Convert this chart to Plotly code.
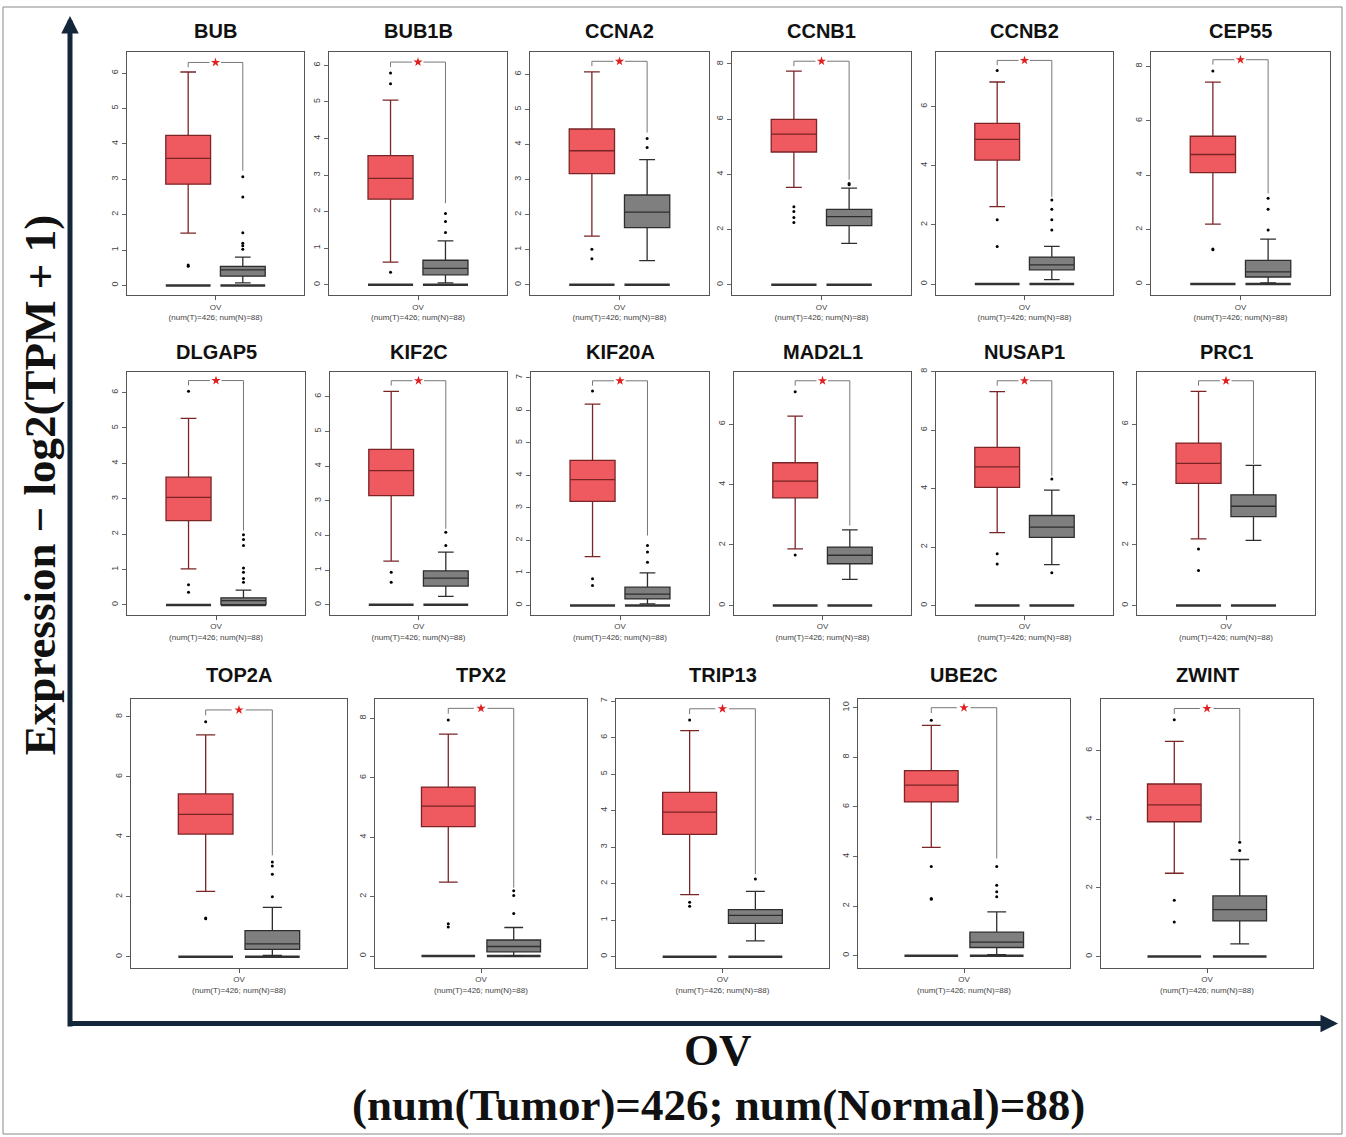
import plotly.graph_objects as go

W, H = 1346, 1137

genes = ["BUB", "BUB1B", "CCNA2", "CCNB1", "CCNB2", "CEP55",
         "DLGAP5", "KIF2C", "KIF20A", "MAD2L1", "NUSAP1", "PRC1",
         "TOP2A", "TPX2", "TRIP13", "UBE2C", "ZWINT"]

# Tumor box statistics (log2(TPM+1))
t_q1 = [2.86, 2.34, 3.17, 4.81, 4.19, 4.09, 2.38, 3.15, 3.20, 3.56, 4.04, 4.04, 4.09, 4.36, 3.35, 6.20, 3.93]
t_med = [3.59, 2.91, 3.82, 5.46, 4.89, 4.76, 3.04, 3.87, 3.87, 4.11, 4.74, 4.70, 4.75, 5.05, 3.96, 6.88, 4.42]
t_q3 = [4.24, 3.53, 4.44, 5.99, 5.43, 5.43, 3.61, 4.48, 4.46, 4.72, 5.41, 5.37, 5.43, 5.69, 4.50, 7.46, 5.03]
t_lo = [1.48, 0.62, 1.39, 3.53, 2.62, 2.20, 1.02, 1.26, 1.50, 1.87, 2.49, 2.20, 2.18, 2.49, 1.70, 4.37, 2.43]
t_hi = [6.03, 5.05, 6.07, 7.74, 6.83, 7.42, 5.27, 6.15, 6.19, 6.26, 7.32, 7.08, 7.40, 7.47, 6.19, 9.29, 6.27]

# Normal box statistics
n_q1 = [0.26, 0.27, 1.63, 2.14, 0.48, 0.26, 0.01, 0.54, 0.20, 1.38, 2.33, 2.94, 0.25, 0.14, 0.91, 0.33, 1.04]
n_med = [0.44, 0.45, 2.07, 2.47, 0.65, 0.45, 0.12, 0.77, 0.35, 1.66, 2.68, 3.28, 0.43, 0.32, 1.13, 0.55, 1.37]
n_q3 = [0.54, 0.67, 2.56, 2.73, 0.91, 0.87, 0.20, 0.98, 0.56, 1.93, 3.08, 3.66, 0.87, 0.54, 1.29, 0.95, 1.77]
n_lo = [0.07, 0.05, 0.69, 1.50, 0.15, 0.04, 0.00, 0.24, 0.05, 0.86, 1.40, 2.15, 0.05, 0.00, 0.43, 0.04, 0.37]
n_hi = [0.80, 1.20, 3.57, 3.50, 1.27, 1.65, 0.42, 1.52, 1.00, 2.50, 3.95, 4.63, 1.65, 0.96, 1.79, 1.77, 2.83]

# Visible outlying points
t_out = [[0.58, 0.54], [5.79, 5.5, 0.34], [1.01, 0.74], [2.83, 2.65, 2.44, 2.26],
         [7.22, 2.17, 1.27], [7.83, 1.29, 1.26], [6.04, 0.57, 0.36], [0.94, 0.65],
         [6.6, 0.82, 0.61], [7.07, 1.67], [1.77, 1.42], [1.87, 1.16],
         [7.84, 1.29, 1.27], [7.95, 1.09, 0.98], [6.48, 1.49, 1.38], [9.49, 3.6, 2.31, 2.28],
         [6.9, 1.64, 1.01]]
n_out = [[3.07, 2.5, 1.49, 1.19, 1.12, 1.02], [1.95, 1.73, 1.43], [4.17, 3.91], [3.67, 3.62],
         [2.84, 2.53, 2.17, 1.83], [3.15, 2.75, 1.99], [1.98, 1.85, 1.68, 1.04, 0.92, 0.75, 0.64],
         [2.09, 1.71], [1.84, 1.64, 1.33], [], [4.33, 1.12], [],
         [3.16, 3.03, 2.75, 2.0], [2.2, 2.04, 1.43], [2.13], [3.6, 2.84, 2.58, 2.38], [3.33, 3.09]]

# significance bracket
star_y = [6.30, 6.09, 6.37, 8.10, 7.56, 8.24, 6.34, 6.46, 6.91, 7.43, 7.69, 7.43, 8.23, 8.34, 6.79, 10.0, 7.23]
bracket_end = [3.24, 2.23, 4.34, 3.81, 2.95, 3.33, 2.10, 2.19, 2.15, 2.64, 4.44, 4.68, 3.38, 2.30, 2.26, 3.92, 3.38]

# y-axis ranges and tick steps
y_min = [-0.27, -0.28, -0.29, -0.37, -0.37, -0.40, -0.28, -0.29, -0.29, -0.31, -0.32, -0.31, -0.36, -0.39, -0.30, -0.48, -0.32]
y_max = [6.60, 6.37, 6.64, 8.44, 7.85, 8.53, 6.59, 6.72, 7.19, 7.73, 8.00, 7.73, 8.61, 8.67, 7.07, 10.37, 7.52]
dtick = [1, 1, 1, 2, 2, 2, 1, 1, 1, 2, 2, 2, 2, 2, 1, 2, 2]

group_pos = [1, 2]
box_w = 0.82
x_label = "OV<br>(num(T)=426; num(N)=88)"

# panel frames in pixels (left, right, top, bottom)
frames = [
    (127, 304, 48, 292), (329, 507, 48, 292), (530, 709, 48, 292),
    (732, 911, 48, 292), (936, 1113, 48, 292), (1151, 1330, 48, 292),
    (127, 305, 369, 613), (330, 507, 369, 613), (531, 709, 369, 613),
    (734, 911, 369, 613), (936, 1113, 369, 613), (1137, 1315, 369, 613),
    (131, 347, 697, 967), (375, 587, 697, 967), (616, 829, 697, 967),
    (858, 1070, 697, 967), (1101, 1313, 697, 967),
]
title_y = [27] * 6 + [349] * 6 + [673] * 5

T_FILL, T_LINE = "#EE5A5F", "#7a2426"
N_FILL, N_LINE = "#7f7f7f", "#2e2e2e"

fig = go.Figure()
layout = {}
annotations = []

for i, g in enumerate(genes):
    k = i + 1
    xa = "x" if k == 1 else f"x{k}"
    ya = "y" if k == 1 else f"y{k}"
    l, r, t, b = frames[i]
    layout["xaxis" if k == 1 else f"xaxis{k}"] = dict(
        domain=[l / W, r / W], anchor=ya, range=[-0.12, 3.12],
        showline=True, mirror=True, linecolor="#555", linewidth=1,
        showgrid=False, zeroline=False,
        tickvals=[1.5], ticktext=[x_label], ticks="outside", ticklen=4,
        tickcolor="#555", tickfont=dict(size=8, color="#444", family="Liberation Sans"),
    )
    layout["yaxis" if k == 1 else f"yaxis{k}"] = dict(
        domain=[1 - b / H, 1 - t / H], anchor=xa, range=[y_min[i], y_max[i]],
        showline=True, mirror=True, linecolor="#555", linewidth=1,
        showgrid=False, zeroline=False, dtick=dtick[i], tick0=0,
        ticks="outside", ticklen=4, tickcolor="#666", tickangle=-90,
        tickfont=dict(size=9, color="#444", family="Liberation Sans"),
    )

    # flat zero boxes
    fig.add_trace(go.Box(
        x=group_pos, q1=[0, 0], median=[0, 0], q3=[0, 0],
        lowerfence=[0, 0], upperfence=[0, 0], width=box_w,
        line=dict(color="#333", width=2.5), fillcolor="#333",
        xaxis=xa, yaxis=ya, showlegend=False, hoverinfo="skip"))
    # tumor box
    fig.add_trace(go.Box(
        x=[group_pos[0]], q1=[t_q1[i]], median=[t_med[i]], q3=[t_q3[i]],
        lowerfence=[t_lo[i]], upperfence=[t_hi[i]], width=box_w,
        whiskerwidth=0.35, fillcolor=T_FILL, line=dict(color=T_LINE, width=1.3),
        xaxis=xa, yaxis=ya, showlegend=False, name="Tumor"))
    # normal box
    fig.add_trace(go.Box(
        x=[group_pos[1]], q1=[n_q1[i]], median=[n_med[i]], q3=[n_q3[i]],
        lowerfence=[n_lo[i]], upperfence=[n_hi[i]], width=box_w,
        whiskerwidth=0.35, fillcolor=N_FILL, line=dict(color=N_LINE, width=1.3),
        xaxis=xa, yaxis=ya, showlegend=False, name="Normal"))
    # outlying points
    pts_x = [group_pos[0]] * len(t_out[i]) + [group_pos[1]] * len(n_out[i])
    pts_y = t_out[i] + n_out[i]
    fig.add_trace(go.Scatter(
        x=pts_x, y=pts_y, mode="markers",
        marker=dict(size=3, color="black"),
        xaxis=xa, yaxis=ya, showlegend=False, hoverinfo="skip"))
    # significance bracket
    span = y_max[i] - y_min[i]
    s = star_y[i]
    x1, x2 = group_pos
    gap_l = x1 + 0.39 * (x2 - x1)
    gap_r = x1 + 0.60 * (x2 - x1)
    bx = [x1, x1, gap_l, None, gap_r, x2, x2]
    by = [s - 0.02 * span, s, s, None, s, s, bracket_end[i]]
    fig.add_trace(go.Scatter(
        x=bx, y=by, mode="lines", line=dict(color="#777", width=1),
        xaxis=xa, yaxis=ya, showlegend=False, hoverinfo="skip"))
    fig.add_trace(go.Scatter(
        x=[(x1 + x2) / 2], y=[s], mode="markers",
        marker=dict(symbol="star", size=7, color="#e02020"),
        xaxis=xa, yaxis=ya, showlegend=False, hoverinfo="skip"))

    annotations.append(dict(
        x=(l + r) / 2 / W, y=1 - title_y[i] / H, xref="paper", yref="paper",
        text=f"<b>{g}</b>", showarrow=False, xanchor="center", yanchor="middle",
        font=dict(size=20, color="#111", family="Liberation Sans")))

# big axis arrows and titles
annotations.append(dict(x=70 / W, y=1 - 12 / H, xref="paper", yref="paper",
                        ax=0, ay=1012, showarrow=True, arrowhead=2, arrowsize=0.7,
                        arrowwidth=5, arrowcolor="#14263a", text=""))
annotations.append(dict(x=1338 / W, y=1 - 1023 / H, xref="paper", yref="paper",
                        ax=-1270, ay=0, showarrow=True, arrowhead=2, arrowsize=0.7,
                        arrowwidth=5, arrowcolor="#14263a", text=""))
annotations.append(dict(x=40 / W, y=1 - 483 / H, xref="paper", yref="paper",
                        text="<b>Expression − log2(TPM + 1)</b>", textangle=-90,
                        showarrow=False, xanchor="center", yanchor="middle",
                        font=dict(size=45, color="#111", family="Liberation Serif")))
annotations.append(dict(x=718 / W, y=1 - 1050 / H, xref="paper", yref="paper",
                        text="<b>OV</b>", showarrow=False, xanchor="center", yanchor="middle",
                        font=dict(size=45, color="#111", family="Liberation Serif")))
annotations.append(dict(x=718 / W, y=1 - 1105 / H, xref="paper", yref="paper",
                        text="<b>(num(Tumor)=426; num(Normal)=88)</b>", showarrow=False,
                        xanchor="center", yanchor="middle",
                        font=dict(size=45, color="#111", family="Liberation Serif")))

layout.update(dict(
    width=W, height=H, margin=dict(l=0, r=0, t=0, b=0),
    paper_bgcolor="white", plot_bgcolor="white", boxmode="overlay",
    annotations=annotations,
    shapes=[dict(type="rect", xref="paper", yref="paper",
                 x0=3 / W, x1=1342 / W, y0=1 - 1134 / H, y1=1 - 3 / H,
                 line=dict(color="#888", width=1))],
))
fig.update_layout(**layout)
fig.write_html("out.html", config={"displayModeBar": False},
               post_script="document.body.style.margin='0';document.body.style.overflow='hidden';")
